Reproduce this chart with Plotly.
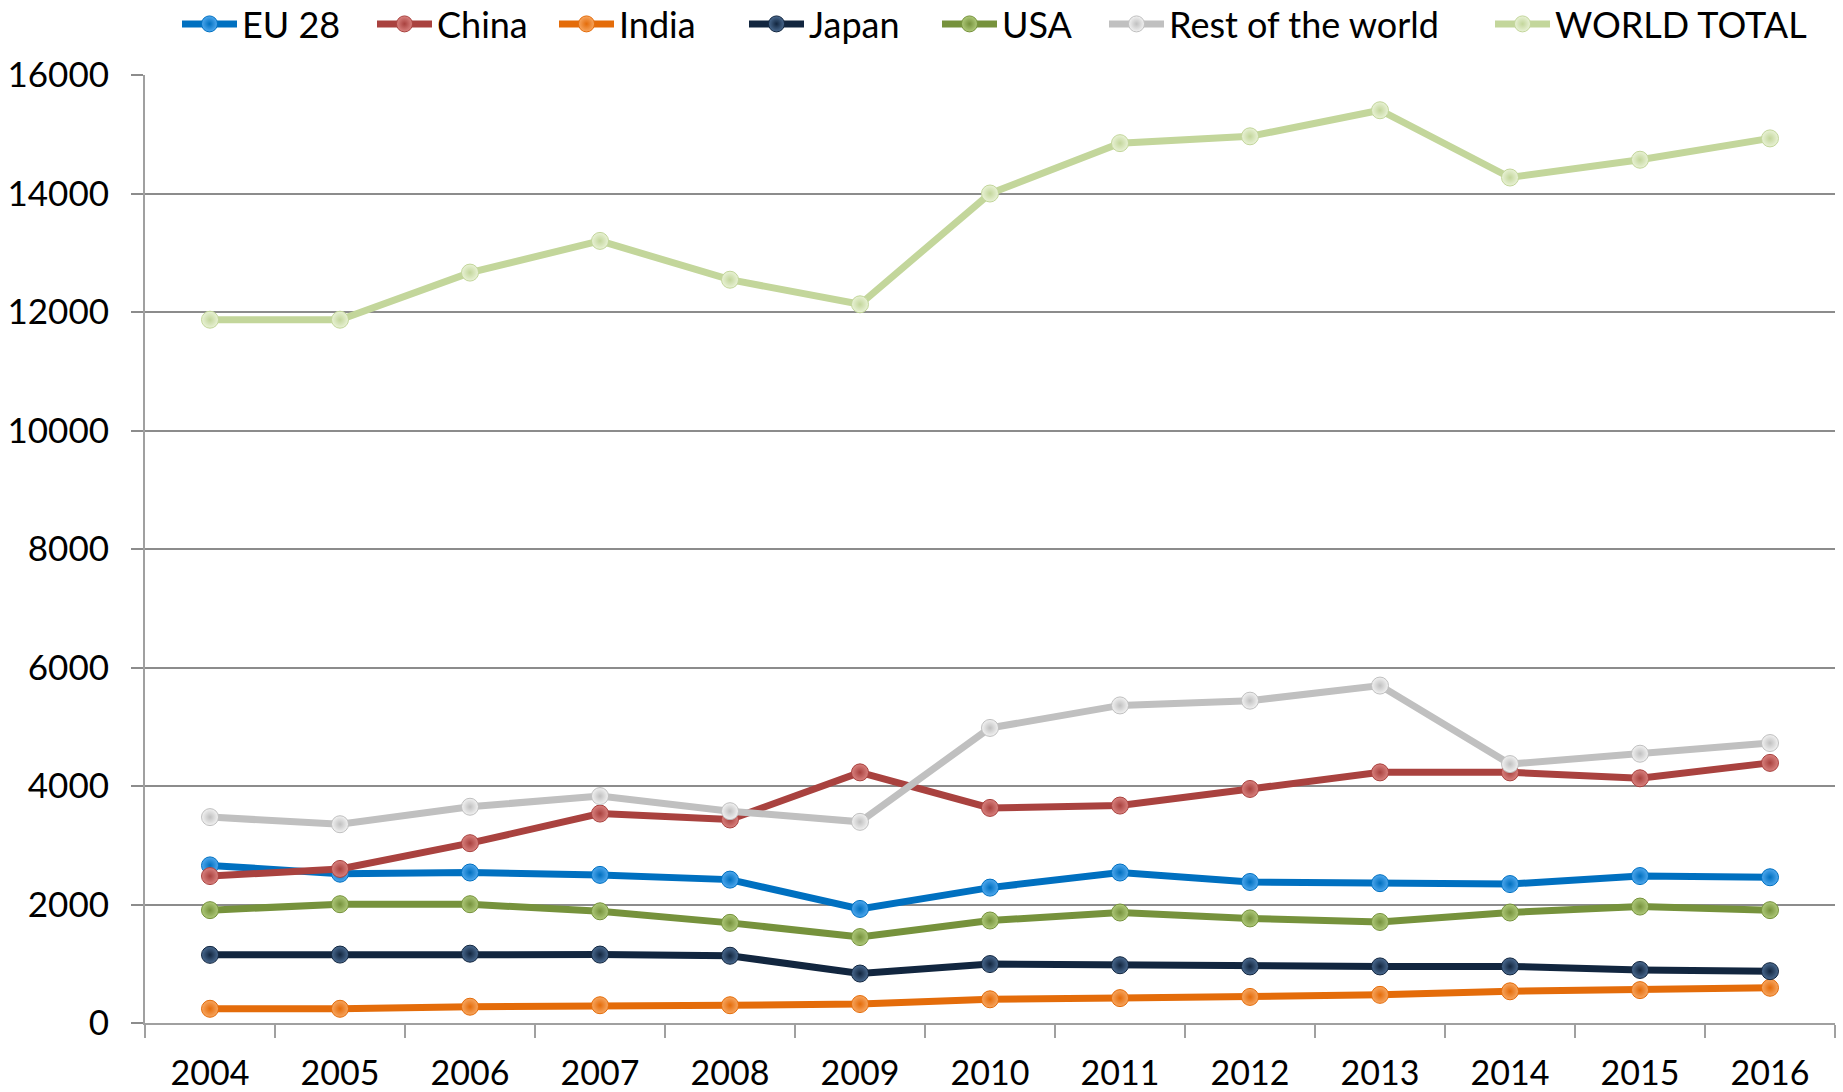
import plotly.graph_objects as go

years = ["2004", "2005", "2006", "2007", "2008", "2009", "2010",
         "2011", "2012", "2013", "2014", "2015", "2016"]

eu28 = [2660, 2520, 2540, 2500, 2420, 1925, 2285, 2540, 2380, 2360, 2345, 2480, 2460]
china = [2480, 2600, 3035, 3535, 3435, 4230, 3630, 3670, 3950, 4230, 4230, 4130, 4390]
india = [240, 240, 275, 300, 300, 320, 400, 420, 440, 475, 535, 555, 595]
japan = [1150, 1155, 1170, 1155, 1135, 835, 995, 975, 955, 955, 955, 895, 875]
usa = [1905, 2005, 2005, 1885, 1690, 1450, 1730, 1865, 1765, 1705, 1865, 1965, 1905]
rest_world = [3475, 3355, 3650, 3830, 3575, 3395, 4980, 5360, 5440, 5695, 4370, 4545, 4725]
world_total = [11870, 11870, 12665, 13200, 12545, 12130, 14000, 14850, 14965, 15405, 14270, 14570, 14930]

y_ticks = [0, 2000, 4000, 6000, 8000, 10000, 12000, 14000, 16000]

series = [
    ("EU 28", eu28, "#0070C0", "#4FA8EE"),
    ("China", china, "#A9423F", "#D9827F"),
    ("India", india, "#E46C0A", "#F7A660"),
    ("Japan", japan, "#12263F", "#4A6A90"),
    ("USA", usa, "#76923C", "#AFC97A"),
    ("Rest of the world", rest_world, "#C0C0C0", "#F2F2F2"),
    ("WORLD TOTAL", world_total, "#C3D69B", "#E9F2D6"),
]

# left edge (px) of each legend entry's line symbol
legend_x = [183, 378, 560, 750, 943, 1110, 1496]

FONT = "Lato"
W, H = 1843, 1092

fig = go.Figure()
layout_legends = {}
for i, (name, vals, col, light) in enumerate(series):
    lname = "legend" if i == 0 else f"legend{i + 1}"
    fig.add_trace(go.Scatter(
        x=years, y=vals, name=name, mode="lines+markers",
        line=dict(color=col, width=7),
        marker=dict(size=17, color=light, symbol="circle",
                    gradient=dict(type="radial", color=col),
                    line=dict(width=1, color=col)),
        legend=lname,
    ))
    layout_legends[lname] = dict(
        xref="container", yref="container",
        x=(legend_x[i] - 6) / W, xanchor="left",
        y=1 - 24 / H, yanchor="middle",
        orientation="h", itemwidth=55,
        font=dict(family=FONT, size=36, color="black"),
        bgcolor="rgba(0,0,0,0)",
    )

fig.update_layout(
    width=W, height=H,
    paper_bgcolor="white", plot_bgcolor="white",
    margin=dict(l=145, r=8, t=75, b=69, autoexpand=False),
    font=dict(family=FONT, size=35, color="black"),
    showlegend=True,
    hovermode=False,
    **layout_legends,
)

fig.update_xaxes(
    type="category", range=[-0.5, len(years) - 0.5],
    showgrid=False, showline=True, linecolor="#A0A0A0", linewidth=2,
    ticks="outside", tickson="boundaries", ticklen=13, tickcolor="#A0A0A0", tickwidth=1.5,
    tickfont=dict(family=FONT, size=34, color="black"), ticklabelstandoff=19,
    zeroline=False, automargin=False,
)
fig.update_yaxes(
    range=[0, 16000], tickvals=y_ticks, ticktext=[str(v) for v in y_ticks],
    showgrid=True, gridcolor="#8C8C8C", gridwidth=1.5,
    showline=True, linecolor="#A0A0A0", linewidth=2,
    ticks="outside", ticklen=12, tickcolor="#8C8C8C", tickwidth=1.5,
    tickfont=dict(family=FONT, size=35, color="black"), ticklabelstandoff=15,
    zeroline=False, automargin=False,
)

fig.write_html(
    "out.html",
    config={"displayModeBar": False},
    post_script="document.body.style.margin='0';document.body.style.overflow='hidden';",
)
